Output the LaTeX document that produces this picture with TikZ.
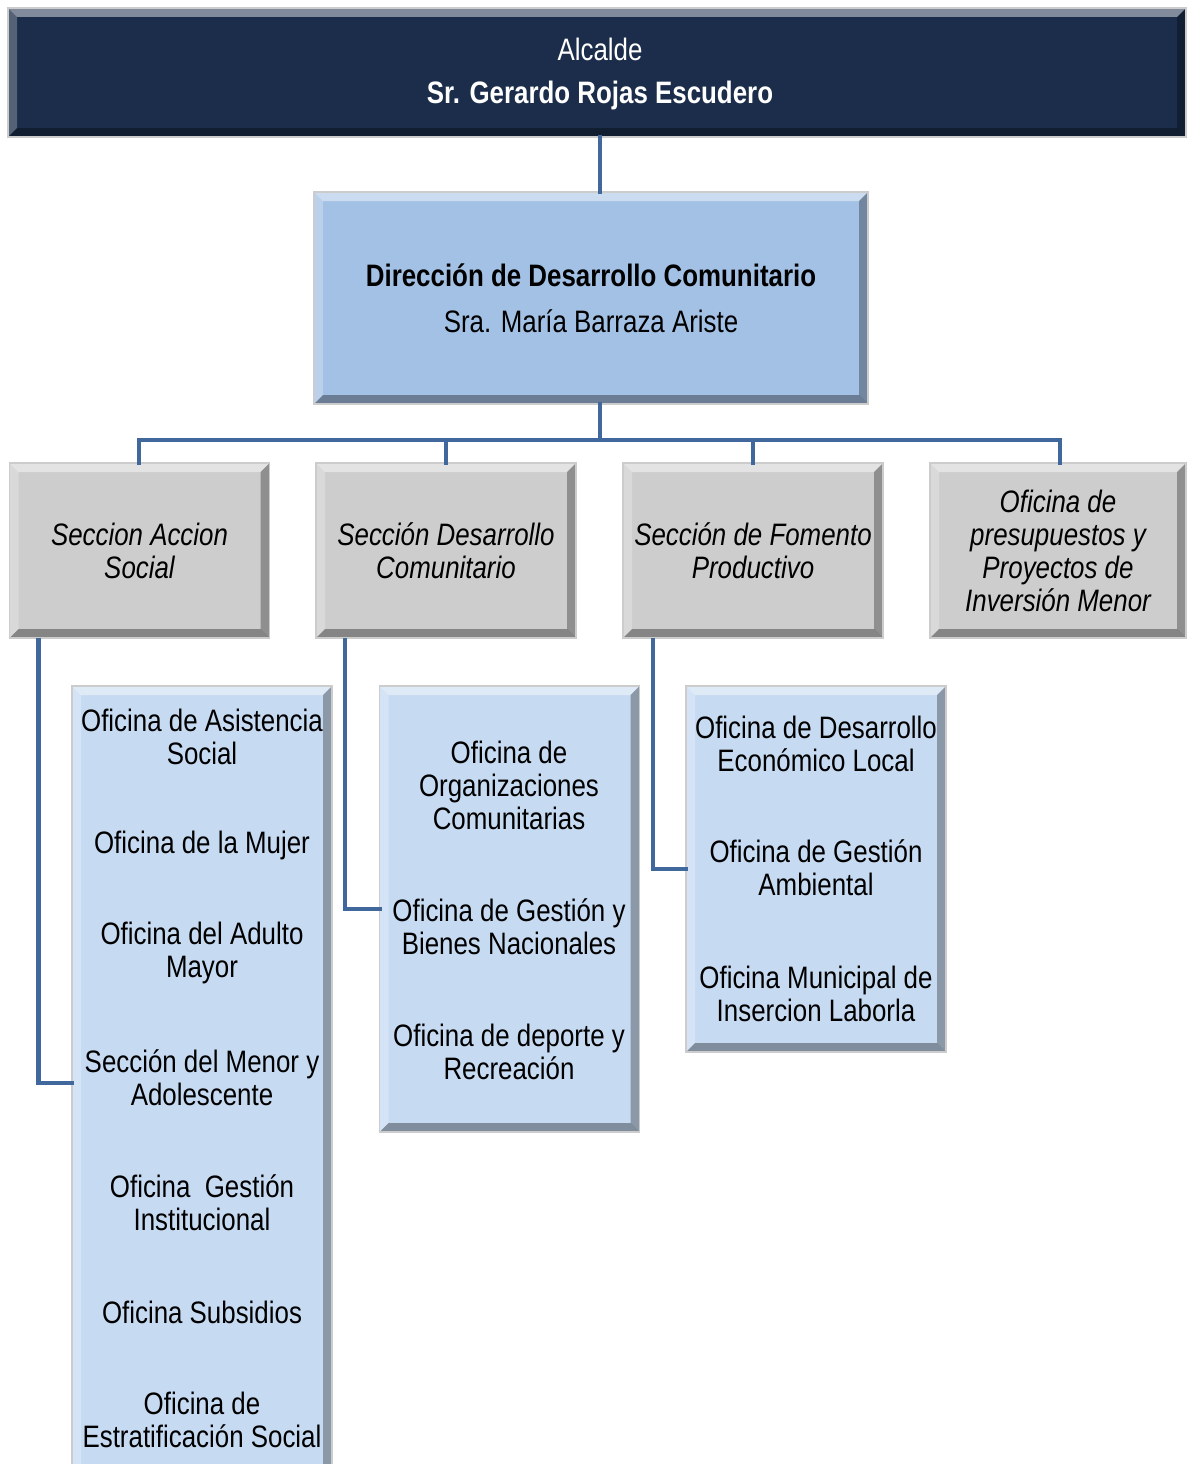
\documentclass[tikz,border=0pt]{standalone}
\usepackage{fontspec}
\setmainfont[FakeStretch=0.835]{Liberation Sans}
\definecolor{navy}{HTML}{1B2D4A}
\definecolor{dirblue}{HTML}{A3C1E5}
\definecolor{secgray}{HTML}{CDCDCD}
\definecolor{offblue}{HTML}{C6DAF2}
\definecolor{linkblue}{HTML}{41689C}
\tikzset{
  bevel/.style={path picture={
    \fill[white,opacity=0.45] (path picture bounding box.north west) -- (path picture bounding box.north east)
      -- ([shift={(-#1,-#1)}]path picture bounding box.north east) -- ([shift={(#1,-#1)}]path picture bounding box.north west) -- cycle;
    \fill[white,opacity=0.25] (path picture bounding box.north west) -- ([shift={(#1,-#1)}]path picture bounding box.north west)
      -- ([shift={(#1,#1)}]path picture bounding box.south west) -- (path picture bounding box.south west) -- cycle;
    \fill[black,opacity=0.3] (path picture bounding box.north east) -- ([shift={(-#1,-#1)}]path picture bounding box.north east)
      -- ([shift={(-#1,#1)}]path picture bounding box.south east) -- (path picture bounding box.south east) -- cycle;
    \fill[black,opacity=0.35] (path picture bounding box.south west) -- ([shift={(#1,#1)}]path picture bounding box.south west)
      -- ([shift={(-#1,#1)}]path picture bounding box.south east) -- (path picture bounding box.south east) -- cycle;
  }},
  box/.style={rectangle, inner sep=0pt, outer sep=0pt, draw=gray!40, line width=1.2pt, bevel=9pt},
  alcbox/.style={box, fill=navy, text=white, minimum width=1178pt, minimum height=129pt},
  dirbox/.style={box, fill=dirblue, minimum width=554pt, minimum height=212pt},
  secbox/.style={box, fill=secgray, minimum width=260pt, minimum height=175pt,
     align=center, font=\fontsize{31}{33}\selectfont\itshape},
  offbox/.style={box, fill=offblue, minimum width=260pt},
  txt/.style={align=center, inner sep=0pt, font=\fontsize{31}{33}\selectfont},
  conn/.style={draw=linkblue, line width=4.5pt, line join=miter, line cap=rect},
}
\begin{document}
\begin{tikzpicture}[x=1pt,y=-1pt]
\useasboundingbox (0,0) rectangle (1186,1464);

% Alcalde
\node[alcbox] (alc) at (597,72.5) {};
\node[txt, text=white] (alct1) at (600,49) {Alcalde};
\node[txt, text=white, font=\fontsize{31}{33}\selectfont\bfseries] (alct2) at (600,95) {Sr. Gerardo Rojas Escudero};

% Direccion
\node[dirbox] (dir) at (591,298) {};
\node[txt, font=\fontsize{31}{33}\selectfont\bfseries] (dirt1) at (591,275) {Dirección de Desarrollo Comunitario};
\node[txt] (dirt2) at (591,321) {Sra. María Barraza Ariste};

% Secciones
\node[secbox] (s1) at (139.5,550.5) {Seccion Accion\\Social};
\node[secbox] (s2) at (446,550.5) {Sección Desarrollo\\Comunitario};
\node[secbox] (s3) at (753,550.5) {Sección de Fomento\\Productivo};
\node[secbox, minimum width=256pt] (s4) at (1058,550.5) {Oficina de\\presupuestos y\\Proyectos de\\Inversión Menor};

% Oficinas boxes
\node[offbox, minimum height=794pt] (b1) at (202,1083) {};
\node[offbox, minimum height=446pt] (b2) at (509.5,909) {};
\node[offbox, minimum height=366pt] (b3) at (816,869) {};

% Connectors
\coordinate (bus) at (600,440);
\draw[conn] (alc.south -| bus) -- (dir.north -| bus);
\draw[conn] (dir.south -| bus) -- (bus);
\draw[conn] (s1.north -| 139,0) |- (bus) -| (s4.north -| 1060,0);
\draw[conn] (s2.north) -- (s2.north |- bus);
\draw[conn] (s3.north) -- (s3.north |- bus);
\draw[conn] ([xshift=29pt,yshift=-2pt]s1.south west) |- (b1.west);
\draw[conn] ([xshift=29pt,yshift=-2pt]s2.south west) |- (b2.west);
\draw[conn] ([xshift=30pt,yshift=-2pt]s3.south west) |- (b3.west);

% Texts in box 1
\node[txt] (o11) at (202,737) {Oficina de Asistencia\\Social};
\node[txt] (o12) at (202,845) {Oficina de la Mujer};
\node[txt] (o13) at (202,953) {Oficina del Adulto\\Mayor};
\node[txt] (o14) at (202,1078) {Sección del Menor y\\Adolescente};
\node[txt] (o15) at (202,1203) {Oficina\ \ Gestión\\Institucional};
\node[txt] (o16) at (202,1312) {Oficina Subsidios};
\node[txt] (o17) at (202,1420) {Oficina de\\Estratificación Social};

% Texts in box 2
\node[txt] (o21) at (509,785) {Oficina de\\Organizaciones\\Comunitarias};
\node[txt] (o22) at (509,927) {Oficina de Gestión y\\Bienes Nacionales};
\node[txt] (o23) at (509,1052) {Oficina de deporte y\\Recreación};

% Texts in box 3
\node[txt] (o31) at (816,744) {Oficina de Desarrollo\\Económico Local};
\node[txt] (o32) at (816,868) {Oficina de Gestión\\Ambiental};
\node[txt] (o33) at (816,994) {Oficina Municipal de\\Insercion Laborla};
\end{tikzpicture}
\end{document}
